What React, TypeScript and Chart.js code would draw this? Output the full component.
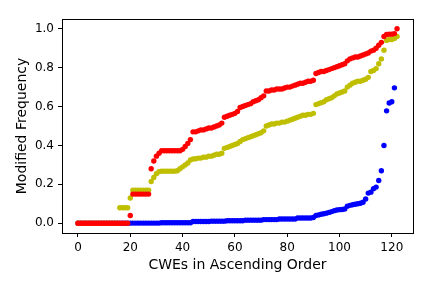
import React, { useEffect, useRef } from "react";
import { Chart, registerables } from "chart.js";

Chart.register(...registerables);

// Sorted modified frequencies, one value per CWE index (x = position in the array)
const redValues: number[] = [
  0, 0, 0, 0, 0, 0, 0, 0, 0, 0, 0, 0, 0, 0, 0, 0, 0, 0, 0, 0,
  0.04,
  0.15, 0.15, 0.15, 0.15, 0.15, 0.15, 0.15,
  0.28, 0.32, 0.345, 0.36,
  0.373, 0.373, 0.373, 0.373, 0.373, 0.373, 0.373, 0.373,
  0.38, 0.395, 0.41, 0.43, 0.47, 0.47, 0.475, 0.48, 0.48, 0.485,
  0.49, 0.49, 0.495, 0.5, 0.505, 0.515, 0.545, 0.55, 0.555, 0.56,
  0.565, 0.575, 0.595, 0.6, 0.605, 0.61, 0.615, 0.625, 0.63, 0.635,
  0.645, 0.655, 0.68, 0.68, 0.685, 0.685, 0.69, 0.69, 0.69, 0.695,
  0.7, 0.7, 0.705, 0.71, 0.715, 0.72, 0.72, 0.725, 0.73, 0.73,
  0.735, 0.77, 0.775, 0.78, 0.78, 0.785, 0.79, 0.795, 0.8, 0.805,
  0.81, 0.815, 0.82, 0.835, 0.845, 0.85, 0.855, 0.855, 0.86, 0.865,
  0.87, 0.875, 0.885, 0.89, 0.9, 0.915, 0.93, 0.96, 0.97, 0.972,
  0.972, 0.975, 1.0,
];

const yellowValues: number[] = [
  0, 0, 0, 0, 0, 0, 0, 0, 0, 0, 0, 0, 0, 0, 0, 0,
  0.08, 0.08, 0.08, 0.08,
  0.13,
  0.17, 0.17, 0.17, 0.17, 0.17, 0.17, 0.17,
  0.215, 0.235, 0.255, 0.265,
  0.268, 0.268, 0.268, 0.268, 0.268, 0.268,
  0.27, 0.28, 0.29, 0.3, 0.31, 0.325, 0.33, 0.332, 0.335, 0.335,
  0.34, 0.34, 0.345, 0.345, 0.35, 0.355, 0.355, 0.36, 0.385, 0.39,
  0.395, 0.4, 0.405, 0.41, 0.42, 0.43, 0.435, 0.44, 0.445, 0.45,
  0.455, 0.46, 0.465, 0.475, 0.5, 0.505, 0.51, 0.51, 0.515, 0.515,
  0.52, 0.52, 0.525, 0.53, 0.535, 0.54, 0.545, 0.55, 0.555, 0.555,
  0.56, 0.56, 0.565, 0.61, 0.615, 0.62, 0.625, 0.635, 0.64, 0.645,
  0.655, 0.665, 0.67, 0.675, 0.68, 0.7, 0.71, 0.72, 0.725, 0.73,
  0.73, 0.735, 0.74, 0.75, 0.78, 0.785, 0.795, 0.82, 0.845, 0.89,
  0.94, 0.945, 0.945, 0.95, 0.96,
];

const blueValues: number[] = [
  0, 0, 0, 0, 0, 0, 0, 0, 0, 0, 0, 0, 0, 0, 0, 0, 0, 0, 0, 0,
  0.001, 0.001, 0.001, 0.001, 0.001, 0.001, 0.001, 0.001, 0.001, 0.001, 0.001, 0.001,
  0.003, 0.003, 0.003, 0.003, 0.003, 0.003, 0.003, 0.003, 0.003, 0.003, 0.003, 0.003,
  0.009, 0.009, 0.009, 0.009, 0.009, 0.009, 0.009,
  0.011, 0.011, 0.011, 0.011, 0.011, 0.011,
  0.013, 0.013, 0.013, 0.013, 0.013, 0.013, 0.013,
  0.016, 0.016, 0.016, 0.016, 0.016, 0.016, 0.016,
  0.019, 0.019, 0.019, 0.019, 0.019, 0.019,
  0.022, 0.022, 0.022, 0.022, 0.022, 0.022, 0.022,
  0.027, 0.027, 0.027, 0.027, 0.027, 0.027,
  0.03, 0.04, 0.043, 0.046, 0.049, 0.052, 0.056, 0.06, 0.065, 0.068,
  0.07, 0.071, 0.073, 0.088, 0.092, 0.095, 0.098, 0.1, 0.103, 0.108,
  0.125, 0.155, 0.16, 0.178, 0.186, 0.22, 0.27, 0.4, 0.578, 0.618,
  0.625, 0.696,
];

const xTickValues: number[] = [0, 20, 40, 60, 80, 100, 120];
const yTickValues: number[] = [0, 0.2, 0.4, 0.6, 0.8, 1.0];
const xAxisTitle = "CWEs in Ascending Order";
const yAxisTitle = "Modified Frequency";

const toPoints = (vals: number[]) => vals.map((v, i) => ({ x: i, y: v }));

const FONT = "'DejaVu Sans', sans-serif";
const POINT_RADIUS = 2.7;

const framePlugin = {
  id: "frame",
  afterDatasetsDraw(chart: any) {
    const { ctx, chartArea } = chart;
    ctx.save();
    ctx.strokeStyle = "#000";
    ctx.lineWidth = 1;
    ctx.strokeRect(
      Math.round(chartArea.left) + 0.5,
      Math.round(chartArea.top) + 0.5,
      Math.round(chartArea.right - chartArea.left),
      Math.round(chartArea.bottom - chartArea.top)
    );
    ctx.restore();
  },
};

export default function App() {
  const canvasRef = useRef<HTMLCanvasElement | null>(null);

  useEffect(() => {
    document.body.style.margin = "0";
    const canvas = canvasRef.current;
    if (!canvas) return;
    const xMax = redValues.length - 1;
    const xPad = xMax * 0.05;
    const chart = new Chart(canvas, {
      type: "scatter",
      data: {
        datasets: [
          {
            label: "red",
            data: toPoints(redValues),
            backgroundColor: "#ff0000",
            borderWidth: 0,
            pointRadius: POINT_RADIUS,
          },
          {
            label: "yellow",
            data: toPoints(yellowValues),
            backgroundColor: "#bfbf00",
            borderWidth: 0,
            pointRadius: POINT_RADIUS,
          },
          {
            label: "blue",
            data: toPoints(blueValues),
            backgroundColor: "#0000ff",
            borderWidth: 0,
            pointRadius: POINT_RADIUS,
          },
        ],
      },
      options: {
        responsive: false,
        animation: false,
        events: [],
        layout: { padding: { top: 19, right: 19, left: 0, bottom: 0 } },
        plugins: {
          legend: { display: false },
          tooltip: { enabled: false },
        },
        scales: {
          x: {
            type: "linear",
            min: -xPad,
            max: xMax + xPad,
            afterBuildTicks: (scale: any) => {
              scale.ticks = xTickValues.map((v) => ({ value: v }));
            },
            afterFit: (scale: any) => {
              scale.height = 55;
            },
            grid: {
              drawOnChartArea: false,
              drawTicks: true,
              tickLength: 4,
              color: "#000",
            },
            border: { display: true, color: "#000", width: 1 },
            ticks: {
              color: "#000",
              font: { family: FONT, size: 12 },
              padding: 4,
              maxRotation: 0,
              callback: (v: any) => String(v),
            },
            title: {
              display: true,
              text: xAxisTitle,
              color: "#000",
              font: { family: FONT, size: 14 },
              padding: { top: 0, bottom: 14 },
            },
          },
          y: {
            type: "linear",
            min: -0.05,
            max: 1.05,
            afterBuildTicks: (scale: any) => {
              scale.ticks = yTickValues.map((v) => ({ value: v }));
            },
            afterFit: (scale: any) => {
              scale.width = 62;
            },
            grid: {
              drawOnChartArea: false,
              drawTicks: true,
              tickLength: 4,
              color: "#000",
            },
            border: { display: true, color: "#000", width: 1 },
            ticks: {
              color: "#000",
              font: { family: FONT, size: 12 },
              padding: 4,
              callback: (v: any) => Number(v).toFixed(1),
            },
            title: {
              display: true,
              text: yAxisTitle,
              color: "#000",
              font: { family: FONT, size: 14 },
              padding: { top: 14, bottom: 0 },
            },
          },
        },
      },
      plugins: [framePlugin],
    });
    return () => chart.destroy();
  }, []);

  return (
    <div style={{ position: "fixed", left: 0, top: 0, width: 432, height: 288, background: "#fff" }}>
      <canvas ref={canvasRef} width={432} height={288} style={{ width: 432, height: 288, display: "block" }} />
    </div>
  );
}
